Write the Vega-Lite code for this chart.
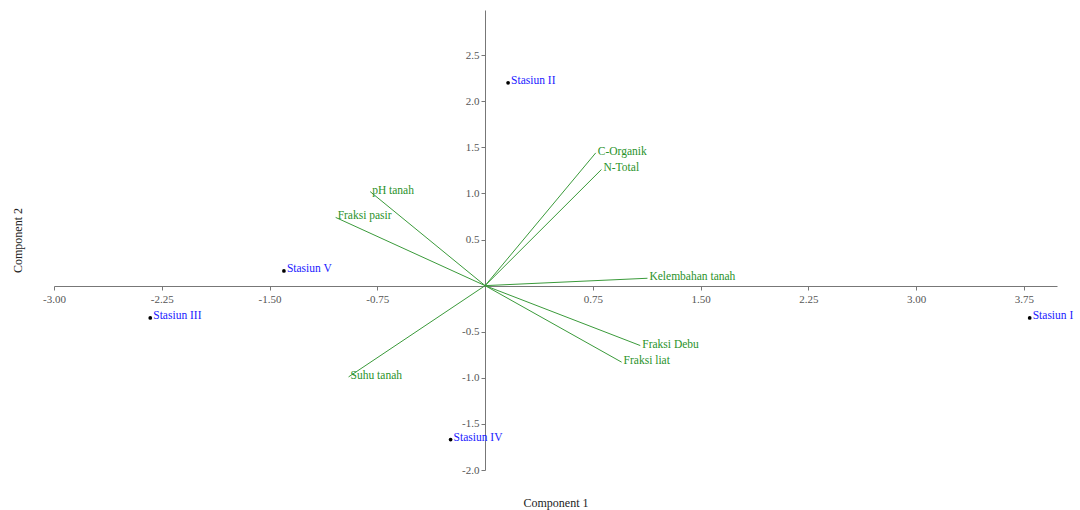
{
  "$schema": "https://vega.github.io/schema/vega-lite/v6.json",
  "width": 1003,
  "height": 460,
  "autosize": {"type": "none"},
  "padding": {"left": 54, "top": 10, "right": 23, "bottom": 40},
  "background": "white",
  "config": {
    "view": {"stroke": null},
    "font": "Liberation Serif",
    "axis": {"grid": false, "domainColor": "#777777", "tickColor": "#777777", "labelColor": "#555555", "labelFont": "Liberation Serif", "labelFontSize": 11, "titleFont": "Liberation Serif", "titleFontSize": 12, "titleFontWeight": "normal", "titleColor": "#222222", "tickSize": 4, "labelFlush": false, "labelOverlap": false}
  },
  "datasets": {
    "vars": [
      {"name": "C-Organik", "pc1": 0.77, "pc2": 1.44},
      {"name": "N-Total", "pc1": 0.81, "pc2": 1.26},
      {"name": "pH tanah", "pc1": -0.80, "pc2": 1.02},
      {"name": "Fraksi pasir", "pc1": -1.04, "pc2": 0.74},
      {"name": "Kelembahan tanah", "pc1": 1.13, "pc2": 0.08},
      {"name": "Fraksi Debu", "pc1": 1.08, "pc2": -0.65},
      {"name": "Fraksi liat", "pc1": 0.95, "pc2": -0.83},
      {"name": "Suhu tanah", "pc1": -0.95, "pc2": -0.99}
    ],
    "stations": [
      {"name": "Stasiun I", "pc1": 3.79, "pc2": -0.35},
      {"name": "Stasiun II", "pc1": 0.16, "pc2": 2.20},
      {"name": "Stasiun III", "pc1": -2.33, "pc2": -0.35},
      {"name": "Stasiun IV", "pc1": -0.24, "pc2": -1.67},
      {"name": "Stasiun V", "pc1": -1.40, "pc2": 0.16}
    ]
  },
  "layer": [
    {
      "data": {"name": "vars"},
      "mark": {"type": "rule", "color": "#3a9a3a", "strokeWidth": 1},
      "encoding": {
        "x": {"field": "pc1", "type": "quantitative", "scale": {"domain": [-3.0, 3.98], "nice": false, "zero": false},
          "axis": {"offset": -184, "values": [-3, -2.25, -1.5, -0.75, 0.75, 1.5, 2.25, 3, 3.75], "labelExpr": "replace(format(datum.value, '.2f'), '\u2212', '-')", "title": "Component 1", "titleY": 216, "titleBaseline": "middle", "labelPadding": 3}},
        "y": {"field": "pc2", "type": "quantitative", "scale": {"domain": [-2.0, 2.99], "nice": false, "zero": false},
          "axis": {"offset": -431, "values": [-2, -1.5, -1, -0.5, 0.5, 1, 1.5, 2, 2.5], "labelExpr": "replace(format(datum.value, '.1f'), '\u2212', '-')", "title": "Component 2", "titleX": -468, "titleBaseline": "middle", "labelPadding": 2}},
        "x2": {"datum": 0},
        "y2": {"datum": 0}
      }
    },
    {
      "data": {"name": "vars"},
      "mark": {"type": "text", "color": "#2a922a", "align": "left", "baseline": "middle", "dx": 2, "dy": -1, "fontSize": 11.5, "font": "Liberation Serif"},
      "encoding": {
        "x": {"field": "pc1", "type": "quantitative"},
        "y": {"field": "pc2", "type": "quantitative"},
        "text": {"field": "name"}
      }
    },
    {
      "data": {"name": "stations"},
      "mark": {"type": "circle", "color": "black", "opacity": 1, "size": 14},
      "encoding": {
        "x": {"field": "pc1", "type": "quantitative"},
        "y": {"field": "pc2", "type": "quantitative"}
      }
    },
    {
      "data": {"name": "stations"},
      "mark": {"type": "text", "color": "#1a1aff", "align": "left", "baseline": "middle", "dx": 3, "dy": -2, "fontSize": 11.5, "font": "Liberation Serif"},
      "encoding": {
        "x": {"field": "pc1", "type": "quantitative"},
        "y": {"field": "pc2", "type": "quantitative"},
        "text": {"field": "name"}
      }
    }
  ]
}
